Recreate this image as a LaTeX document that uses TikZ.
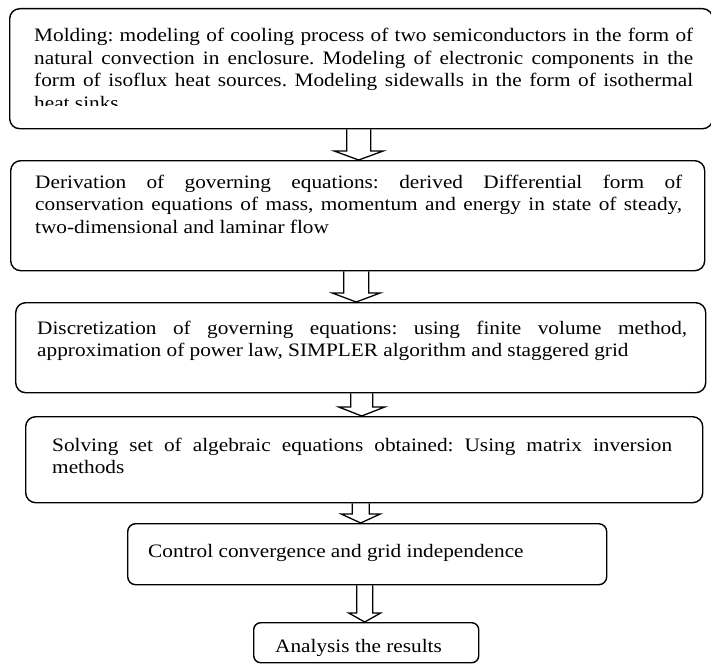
\documentclass[tikz,border=0pt]{standalone}
\usepackage{fontspec}
\setmainfont{Liberation Serif}[FakeStretch=1.12]
\usetikzlibrary{calc}
\frenchspacing

\begin{document}
\begin{tikzpicture}[x=1pt,y=1pt,
	stage/.style={draw=black,line width=1.4pt,rounded corners=10pt,anchor=north west,inner sep=0pt},
	txt/.style={anchor=base west,inner sep=0pt,font=\fontsize{19}{22.5}\selectfont,align=justify},
	flow/.style n args={2}{line width=1.3pt,to path={
		($(\tikztostart)+(-#1,0)$) -- ($(\tikztostart |- \tikztotarget)+(-#1,9)$)
		-- ($(\tikztostart |- \tikztotarget)+(-#2,9)$) -- (\tikztostart |- \tikztotarget)
		-- ($(\tikztostart |- \tikztotarget)+(#2,9)$) -- ($(\tikztostart |- \tikztotarget)+(#1,9)$)
		-- ($(\tikztostart)+(#1,0)$)}}]
	\useasboundingbox (0,0) rectangle (711,-666);
	% boxes
	\node[stage,minimum width=703pt,minimum height=120pt] (b1) at (9,-8) {};
	\node[stage,minimum width=694pt,minimum height=110pt] (b2) at (10,-160) {};
	\node[stage,minimum width=690pt,minimum height=90pt] (b3) at (15,-302) {};
	\node[stage,minimum width=677pt,minimum height=86pt] (b4) at (25,-416) {};
	\node[stage,minimum width=479pt,minimum height=61pt,rounded corners=8pt] (b5) at (127,-523) {};
	\node[stage,minimum width=225pt,minimum height=40pt,rounded corners=7pt] (b6) at (253,-622) {};
	% texts
	\begin{scope}
		\clip (0,0) rectangle (711,-106);
		\node[txt,text width=659pt] (t1) at (34,-42) {Molding: modeling of cooling process of two semiconductors in the form of\linebreak natural convection in enclosure. Modeling of electronic components in the\linebreak form of isoflux heat sources. Modeling sidewalls in the form of isothermal\linebreak heat sinks};
	\end{scope}
	\node[txt,text width=647pt] (t2) at (35,-188) {Derivation of governing equations: derived Differential form of\linebreak conservation equations of mass, momentum and energy in state of steady,\linebreak two-dimensional and laminar flow};
	\node[txt,text width=650pt] (t3) at (37,-334) {Discretization of governing equations: using finite volume method,\linebreak approximation of power law, SIMPLER algorithm and staggered grid};
	\node[txt,text width=620pt] (t4) at (52,-451) {Solving set of algebraic equations obtained: Using matrix inversion\linebreak methods};
	\node[txt] (t5) at (148,-557) {Control convergence and grid independence};
	\node[txt] (t6) at (275,-652) {Analysis the results};
	% arrows
	\draw [flow={12}{24.5}] ([xshift=-2.5pt]b1.south) to (b2.north);
	\draw [flow={12.5}{24}] ([xshift=-1.5pt]b2.south) to (b3.north);
	\draw [flow={11}{23}] ([xshift=1pt]b3.south) to (b4.north);
	\draw [flow={8.5}{19.5}] ([xshift=-3.5pt]b4.south) to (b5.north);
	\draw [flow={8}{16}] ([xshift=-2.5pt]b5.south) to (b6.north);
\end{tikzpicture}
\end{document}
